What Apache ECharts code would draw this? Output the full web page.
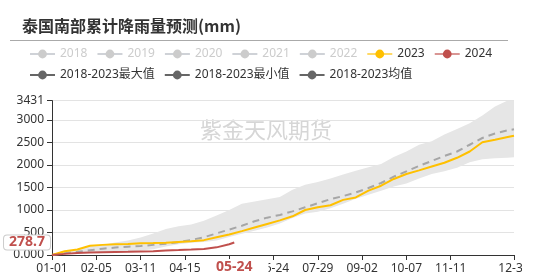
<!DOCTYPE html>
<html><head><meta charset="utf-8">
<script src="https://cdn.jsdelivr.net/npm/echarts@6/dist/echarts.min.js"></script>
<style>html,body{margin:0;padding:0;background:#fff}#wrap{width:522px;height:280px;overflow:hidden}#c{width:535px;height:280px}</style>
</head><body><div id="wrap"><div id="c"></div></div>
<script>
const titleText = '泰国南部累计降雨量预测(mm)';
const watermarkText = '紫金天风期货';
const hiddenYears = ['2018', '2019', '2020', '2021', '2022'];
const nameMax = '2018-2023最大值';
const nameMin = '2018-2023最小值';
const nameMean = '2018-2023均值';

// day-of-year indices (2024 calendar) where values were read
const sampleDays = [0,10,20,30,40,50,60,70,80,90,100,110,120,130,140,150,160,170,180,190,200,210,220,230,240,250,260,270,280,290,300,310,320,330,340,350,360,365];
const y2023 = [0,85,122,205,225,238,245,260,265,272,290,305,330,395,455,530,610,690,770,860,1000,1060,1105,1225,1280,1430,1540,1690,1800,1880,1965,2050,2160,2300,2505,2560,2620,2650];
const yMean = [0,40,70,105,140,165,185,200,225,250,285,335,395,480,565,650,750,830,890,970,1060,1150,1240,1310,1390,1490,1600,1740,1860,1980,2090,2200,2300,2450,2600,2700,2770,2795];
const yMax  = [0,70,130,200,230,275,320,390,480,580,640,680,760,880,1000,1140,1190,1240,1290,1450,1560,1620,1700,1790,1870,1950,2020,2180,2300,2450,2530,2680,2800,2930,3100,3300,3431,3431];
const yMin  = [0,25,45,60,65,70,80,100,130,190,240,270,290,320,400,470,540,610,700,820,920,960,1040,1140,1250,1340,1430,1520,1590,1700,1800,1860,1940,2060,2130,2150,2160,2170];
const days2024 = [0,10,20,30,40,50,60,70,80,90,100,110,120,130,140,144];
const y2024 = [0,25,45,55,60,65,70,78,85,100,110,122,135,170,240,278.7];

const yTicks = {min: 0, max: 3431, interval: 500};

// category labels: every day of 2024 as MM-DD
const categories = [];
for (let d = new Date(Date.UTC(2024, 0, 1)); d.getUTCFullYear() === 2024; d.setUTCDate(d.getUTCDate() + 1)) {
  categories.push(String(d.getUTCMonth() + 1).padStart(2, '0') + '-' + String(d.getUTCDate()).padStart(2, '0'));
}
const lastIdx = categories.length - 1;
const labelInterval = (i) => (i % 35 === 0 && i <= 315) || i === lastIdx;

const pairs = (days, vals) => days.map((d, i) => [d, vals[i]]);
const bandDiff = yMax.map((v, i) => v - yMin[i]);

const pointerDay = days2024[days2024.length - 1];
const pointerVal = y2024[y2024.length - 1];

const font = "'Noto Sans', 'Noto Sans CJK SC', sans-serif";
const chart = echarts.init(document.getElementById('c'));

const legendData = [
  ...hiddenYears.map(n => ({name: n})),
  {name: '2023', itemStyle: {color: '#FFC000'}, lineStyle: {color: '#FFD966'}},
  {name: '2024', itemStyle: {color: '#C0504D'}, lineStyle: {color: '#D99694'}},
  {name: nameMax, itemStyle: {color: '#666'}, lineStyle: {color: '#666', opacity: 1}},
  {name: nameMin, itemStyle: {color: '#666'}, lineStyle: {color: '#666', opacity: 1}},
  {name: nameMean, itemStyle: {color: '#666'}, lineStyle: {color: '#666', type: 'solid'}}
];
const selected = {};
hiddenYears.forEach(n => selected[n] = false);

const series = [
  ...hiddenYears.map(n => ({name: n, type: 'line', data: [], symbol: 'circle', showSymbol: false})),
  {name: nameMin, type: 'line', stack: 'band', data: pairs(sampleDays, yMin), symbol: 'circle', showSymbol: false,
   itemStyle: {color: '#666'}, lineStyle: {opacity: 0}, z: 1, silent: true},
  {name: nameMax, type: 'line', stack: 'band', data: pairs(sampleDays, bandDiff), symbol: 'circle', showSymbol: false,
   itemStyle: {color: '#666'}, lineStyle: {opacity: 0}, areaStyle: {color: '#e6e6e6', opacity: 1}, z: 1, silent: true},
  {name: nameMean, type: 'line', data: pairs(sampleDays, yMean), symbol: 'circle', showSymbol: false,
   itemStyle: {color: '#666'}, lineStyle: {color: '#a6a6a6', width: 2, type: [7, 5]}, z: 3},
  {name: '2023', type: 'line', data: pairs(sampleDays, y2023), symbol: 'circle', showSymbol: false,
   itemStyle: {color: '#FFC000'}, lineStyle: {color: '#FFC000', width: 2}, z: 4},
  {name: '2024', type: 'line', data: pairs(days2024, y2024), symbol: 'circle', showSymbol: false,
   itemStyle: {color: '#C0504D'}, lineStyle: {color: '#C0504D', width: 2}, z: 5}
];

chart.setOption({
  animation: false,
  textStyle: {fontFamily: font},
  title: {text: titleText, left: 17, top: 13,
    textStyle: {fontFamily: "'Noto Sans CJK SC', serif", fontSize: 16, fontWeight: 'bold', color: '#333'}},
  graphic: [
    {type: 'line', shape: {x1: 10, y1: 40.5, x2: 508, y2: 40.5}, style: {stroke: '#aaa', lineWidth: 1}, silent: true},
    {type: 'text', left: 200, top: 119, z: 0, silent: true,
     style: {text: watermarkText, fill: '#d6d6d6', font: "22px 'Noto Sans CJK SC'"}}
  ],
  legend: {left: 24, top: 43, width: 480, itemWidth: 25, itemHeight: 11, itemGap: 9,
    textStyle: {fontSize: 12, color: '#333', fontFamily: font}, inactiveColor: '#ccc',
    data: legendData, selected: selected},
  grid: {left: 52, right: 21, top: 100.6, bottom: 25, containLabel: false},
  xAxis: {
    type: 'category', data: categories, boundaryGap: false,
    axisLine: {lineStyle: {color: '#333'}},
    axisTick: {interval: labelInterval, lineStyle: {color: '#333'}},
    axisLabel: {interval: labelInterval, color: '#333', fontSize: 12, margin: 8},
    splitLine: {show: false},
    axisPointer: {show: true, type: 'line', value: pointerDay, status: 'show', triggerTooltip: false,
      lineStyle: {opacity: 0},
      label: {show: true, color: '#C0504D', fontWeight: 'bold', fontSize: 14, backgroundColor: '#fff',
        padding: [1, 16], margin: 4}}
  },
  yAxis: {
    type: 'value', min: yTicks.min, max: yTicks.max, interval: yTicks.interval,
    axisLine: {show: true, lineStyle: {color: '#333'}},
    axisTick: {show: true, lineStyle: {color: '#333'}},
    axisLabel: {color: '#333', fontSize: 12, showMaxLabel: true, formatter: v => v === 0 ? '0.000' : String(v)},
    splitLine: {lineStyle: {color: '#e3e3e3'}},
    axisPointer: {show: true, type: 'line', value: pointerVal, status: 'show', triggerTooltip: false,
      lineStyle: {opacity: 0},
      label: {show: true, color: '#C0504D', fontWeight: 'bold', fontSize: 14, backgroundColor: '#fff',
        borderColor: '#ccc', borderWidth: 1, padding: [0, 5], margin: 2,
        formatter: p => Number(p.value).toFixed(1)}}
  },
  series: series
});
</script></body></html>
